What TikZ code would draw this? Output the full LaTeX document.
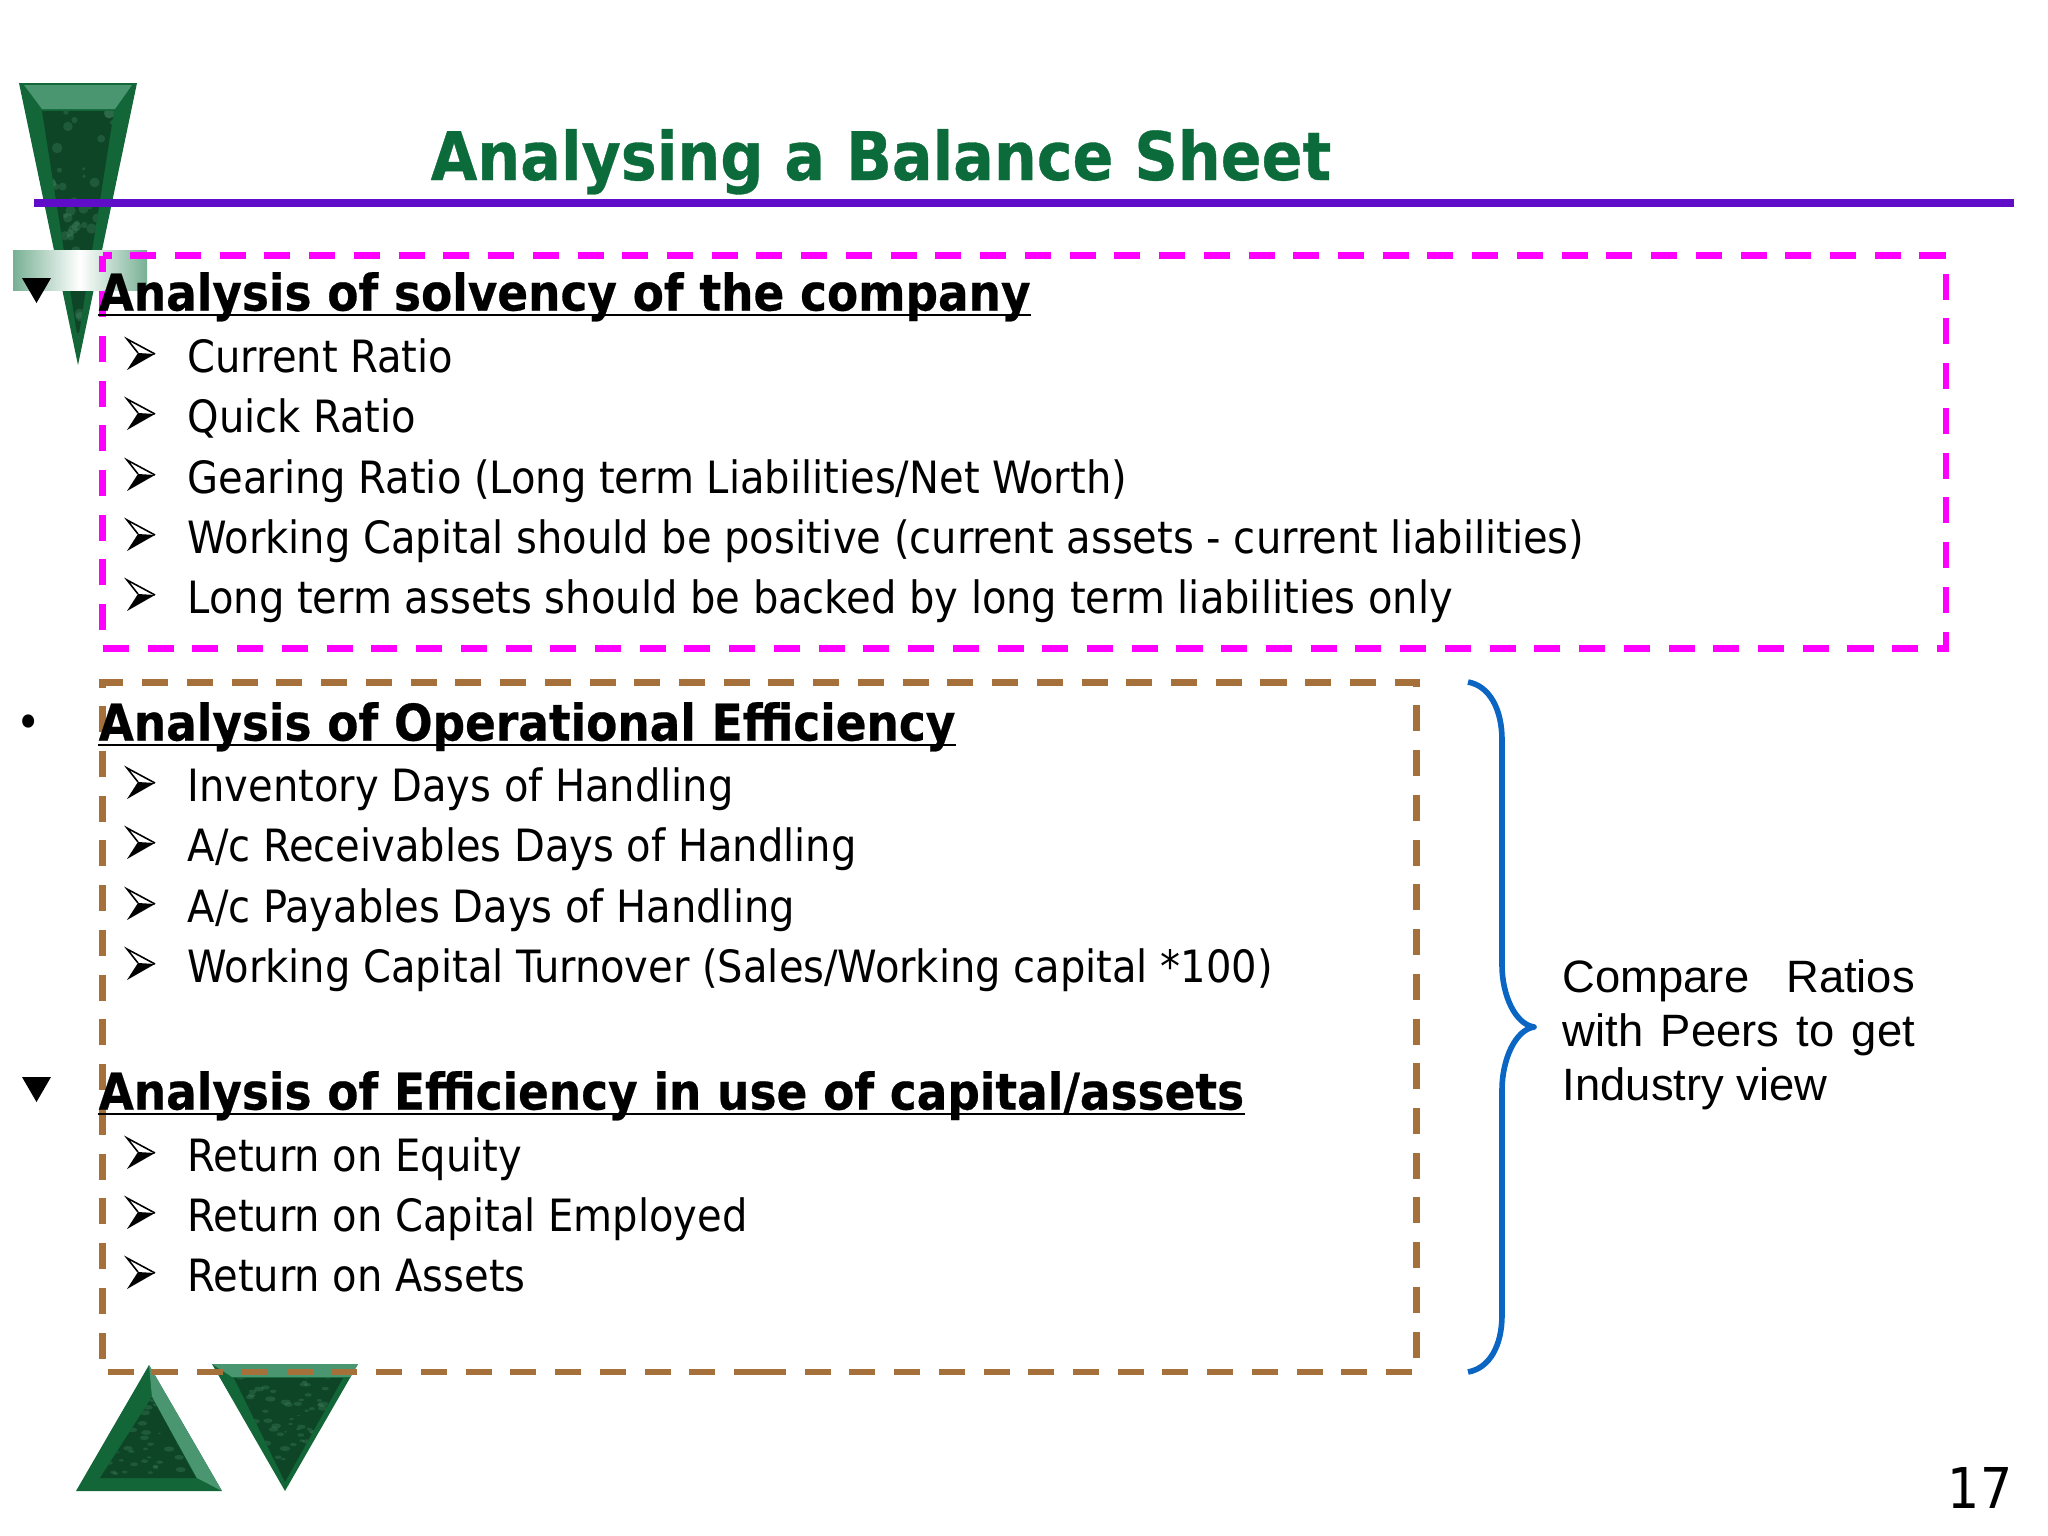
\documentclass[tikz,border=0pt]{standalone}
\usepackage{fontspec}
\setmainfont[BoldFeatures={FakeBold=0.5}]{DejaVu Sans Condensed}
\newfontfamily\arialfont{Liberation Sans}
\usetikzlibrary{positioning}

\definecolor{titlegreen}{HTML}{0B6B3A}
\definecolor{rulepurple}{HTML}{5F0DC8}
\definecolor{boxmagenta}{HTML}{FF00FF}
\definecolor{boxbrown}{HTML}{A5703A}
\definecolor{braceblue}{HTML}{0A66C2}
\definecolor{gemdark}{HTML}{0D4526}
\definecolor{gemmid}{HTML}{126637}
\definecolor{gemlight}{HTML}{4A9670}
\definecolor{gemspot}{HTML}{5FA583}

\tikzset{
  itemtext/.style={anchor=base west,inner sep=0pt,font=\fontsize{12.65}{15}\selectfont},
  headtext/.style={anchor=base west,inner sep=0pt,font=\fontsize{14.35}{17}\selectfont\bfseries},
  dashbox/.style={line width=1.8pt,dash pattern=on 7.4pt off 5.32pt},
}

% bullet arrowhead
\newcommand{\arrowbullet}[1]{%
  \begin{scope}[shift={(#1)}]
    \fill[black] (28,15) -- (11,14) -- (0,31) -- cycle;
    \draw[line width=0.45pt,line join=miter] (28,15) -- (0,0) -- (11,14);
  \end{scope}}

% black triangle bullet
\newcommand{\trianglebullet}[1]{%
  \fill[black,shift={(#1)}] (0,0) -- (29,0) -- (14.5,25) -- cycle;}

% mottled spots on a gem
\newcommand{\gemspots}[2]{%
  \foreach \i in {1,...,#2} {
    \fill[gemspot,opacity=0.22] ({#1+rnd*150},{rnd*290}) circle ({1.5+rnd*4});
  }}

\begin{document}
\begin{tikzpicture}[x=0.01cm,y=-0.01cm]
  \useasboundingbox (0,0) rectangle (2048,1536);
  \pgfmathsetseed{17}

  % Top gem
  \fill[gemmid] (19,83) -- (137,83) -- (78,365) -- cycle;
  \fill[gemlight] (24,85) -- (132,85) -- (115,109) -- (42,109) -- cycle;
  \begin{scope}
    \clip (42,111) -- (114,111) -- (78,340) -- cycle;
    \fill[gemdark] (0,80) rectangle (150,370);
    \begin{scope}[shift={(0,80)}]
      \gemspots{0}{220}
    \end{scope}
  \end{scope}
  \shade[left color=gemlight!75,right color=gemlight!75,middle color=white] (13,250) rectangle (147,290);

  % Bottom gems
  \fill[gemmid] (149,1365) -- (222,1491) -- (76,1491) -- cycle;
  \fill[gemlight] (149,1365) -- (222,1491) -- (197,1478) -- (152,1397) -- cycle;
  \begin{scope}
    \clip (152,1397) -- (196,1478) -- (100,1478) -- cycle;
    \fill[gemdark] (70,1360) rectangle (230,1495);
    \begin{scope}[yscale=0.5,shift={(70,2720)}]
      \gemspots{0}{150}
    \end{scope}
  \end{scope}
  \fill[gemmid] (212,1364) -- (358,1364) -- (285,1491) -- cycle;
  \fill[gemlight] (212,1364) -- (358,1364) -- (350,1377) -- (232,1377) -- cycle;
  \begin{scope}
    \clip (234,1378) -- (343,1378) -- (285,1482) -- cycle;
    \fill[gemdark] (210,1360) rectangle (360,1495);
    \begin{scope}[yscale=0.5,shift={(210,2720)}]
      \gemspots{0}{150}
    \end{scope}
  \end{scope}

  % Title
  \node[anchor=base west,inner sep=0pt,text=titlegreen,font=\fontsize{19.05}{23}\selectfont\bfseries] (title) at (430,180) {Analysing a Balance Sheet};
  \fill[rulepurple] (34,199) rectangle (2014,207);

  % Boxes
  \draw[dashbox,boxmagenta,dash phase=4.84pt] (102.5,255.5) -- (1946,255.5) -- (1946,648.5) -- (102.5,648.5) -- cycle;
  \draw[dashbox,boxbrown] (760,1372) -- (102.5,1372) -- (102.5,682.5) -- (1416.5,682.5) -- (1416.5,1372) -- cycle;

  % Solvency
  \trianglebullet{22,278}
  \node[headtext] (solvency) at (98,310.5) {Analysis of solvency of the company};
  \node[itemtext] (current) at (187,372) {Current Ratio};
  \node[itemtext] (quick) at (187,432) {Quick Ratio};
  \node[itemtext] (gearing) at (187,493) {Gearing Ratio (Long term Liabilities/Net Worth)};
  \node[itemtext] (working) at (187,553) {Working Capital should be positive (current assets - current liabilities)};
  \node[itemtext] (longterm) at (187,613) {Long term assets should be backed by long term liabilities only};
  \foreach \y in {339,399,460,520,580} {
    \arrowbullet{127,\y}
  }

  % Operational efficiency
  \node[inner sep=0pt,font=\fontsize{13}{15}\selectfont] (dot) at (29,727) {•};
  \node[headtext] (operational) at (98,740.5) {Analysis of Operational Efficiency};
  \node[itemtext] (inventory) at (187,801) {Inventory Days of Handling};
  \node[itemtext] (receivables) at (187,861) {A/c Receivables Days of Handling};
  \node[itemtext] (payables) at (187,922) {A/c Payables Days of Handling};
  \node[itemtext] (turnover) at (187,982) {Working Capital Turnover (Sales/Working capital *100)};
  \foreach \y in {768,828,889,949} {
    \arrowbullet{127,\y}
  }

  % Capital efficiency
  \trianglebullet{22,1077}
  \node[headtext] (capital) at (98,1109.5) {Analysis of Efficiency in use of capital/assets};
  \node[itemtext] (equity) at (187,1171) {Return on Equity};
  \node[itemtext] (employed) at (187,1231) {Return on Capital Employed};
  \node[itemtext] (assets) at (187,1291) {Return on Assets};
  \foreach \y in {1138,1198,1258} {
    \arrowbullet{127,\y}
  }

  % Heading underlines
  \foreach \h in {solvency,operational,capital} {
    \draw[line width=0.6pt] ([yshift=-1.2pt]\h.base west) -- ([yshift=-1.2pt]\h.base east);
  }

  % Brace
  \draw[braceblue,line width=1.6pt,line join=round] (1468,682) .. controls (1490,686) and (1502,710) .. (1502,740)
    -- (1502,965) .. controls (1502,995) and (1515,1024) .. (1534,1027)
    .. controls (1515,1030) and (1502,1060) .. (1502,1090)
    -- (1502,1315) .. controls (1502,1345) and (1490,1368) .. (1468,1372);

  % Note
  \node[anchor=north west,inner sep=0pt,text width=3.52cm,align=justify,font=\arialfont\fontsize{12.9}{15.4}\selectfont] (compare) at (1562,959) {\hyphenpenalty=10000 Compare Ratios with Peers to get Industry view};

  \node[anchor=base east,inner sep=0pt,font=\fontsize{16}{19}\selectfont] (page) at (2013,1508) {17};
\end{tikzpicture}
\end{document}
